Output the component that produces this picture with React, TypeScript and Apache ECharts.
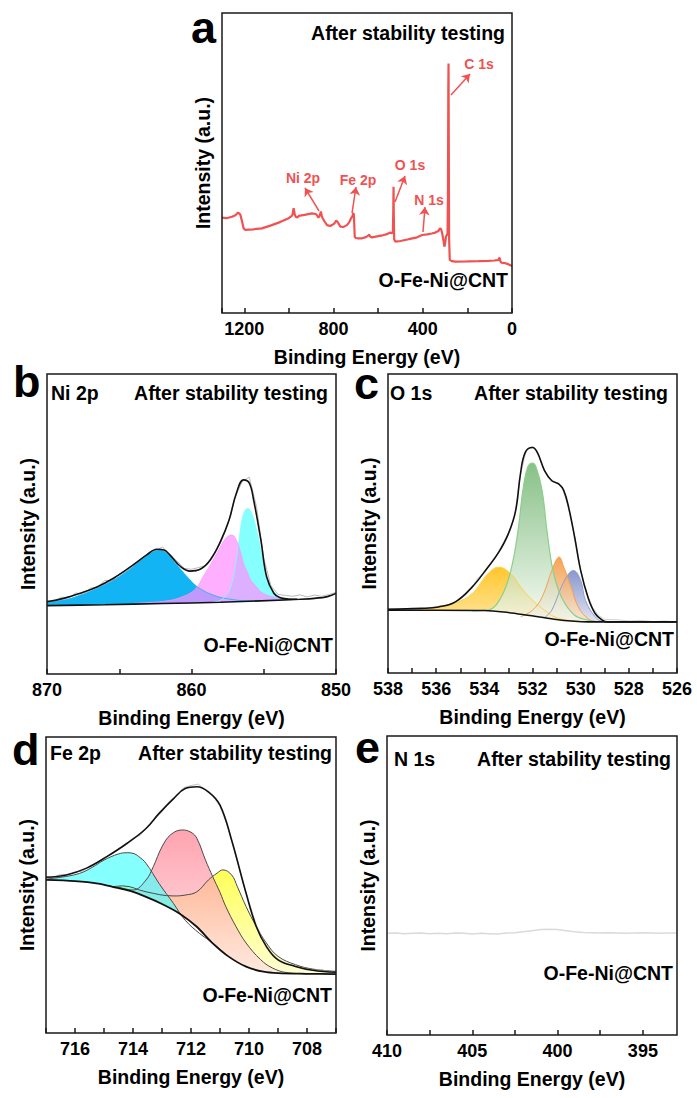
import React, { useEffect, useRef } from 'react';
import * as echarts from 'echarts';

const FONT = '"Liberation Sans", Arial, Helvetica, sans-serif';

// ---------- Panel a : survey ----------
const SURVEY_BE = [1300, 1280, 1255, 1240, 1228, 1218, 1210, 1203, 1195, 1160, 1121, 1080, 1040, 1001, 990, 984, 979, 974, 970, 962, 956, 930, 897, 880, 874, 868, 862, 857, 853, 849, 840, 829, 815, 807, 796, 788, 780, 770, 755, 740, 730, 725, 720, 716, 712, 709, 705, 700, 690, 672, 655, 645, 640, 635, 628, 600, 580, 560, 553, 545, 538, 534, 532, 531, 530, 528, 523, 500, 463, 430, 403, 380, 360, 344, 330, 323, 318, 313, 308, 303, 300, 296, 292, 289, 287, 285.5, 284.5, 283.5, 282, 279, 270, 254, 200, 150, 105, 80, 65, 60, 57, 55, 52, 48, 40, 30, 15, 0];
const SURVEY_INT = [31.8, 31.6, 32.1, 32.6, 33.5, 32.8, 30.5, 28.2, 27.7, 27.9, 28.2, 29.2, 30.3, 31.6, 32.2, 32.7, 34.9, 33.0, 32.1, 31.8, 32.4, 32.7, 33.2, 33.0, 32.6, 31.8, 32.4, 33.8, 32.5, 31.6, 30.5, 29.3, 29.0, 29.3, 29.9, 30.8, 30.2, 28.8, 28.7, 29.3, 30.2, 31.0, 31.8, 32.1, 33.2, 33.0, 25.4, 25.0, 24.9, 24.9, 25.3, 25.8, 26.1, 25.4, 25.2, 25.6, 25.9, 26.3, 26.6, 26.8, 26.6, 26.9, 35.0, 42.1, 33.0, 24.5, 23.8, 24.0, 24.6, 25.1, 26.0, 26.2, 26.5, 26.8, 27.3, 28.2, 28.0, 26.6, 24.5, 22.1, 23.0, 25.5, 26.0, 26.5, 40.0, 75.0, 83.2, 60.0, 25.0, 17.7, 17.3, 17.1, 17.2, 17.3, 17.4, 17.5, 17.6, 17.7, 18.5, 18.2, 17.2, 16.8, 16.7, 16.6, 16.2, 15.7];
const SURVEY_LABELS = ['C 1s', 'O 1s', 'N 1s', 'Fe 2p', 'Ni 2p'];
const SURVEY_LABEL_AT = [[147.9, 83], [457.2, 49.3], [372, 37.7], [690.3, 44.3], [936.9, 45]];
const SURVEY_ARROWS = [[273.4, 72.7, 188.3, 79.7], [524.5, 37, 479.6, 45.7], [399, 27, 390, 35.3], [717.2, 33.3, 699.3, 42], [865.2, 34, 928, 41.7]];

// ---------- Panel b : Ni 2p ----------
const NI_BG_BE = [870, 866, 862, 858, 854, 852.5, 851.5, 850.6, 850];
const NI_BG = [22.8, 23.1, 23.5, 23.9, 24.6, 24.9, 25.2, 25.8, 26.9];
const NI_ENV_BE = [870, 868.85, 867.7, 866.5, 865.4, 864.2, 863.1, 862.4, 861.9, 861.5, 860.8, 860.1, 859.4, 858.7, 858, 857.4, 856.9, 856.4, 856, 855.7, 855.2, 854.8, 854.3, 853.9, 853.3, 852.7];
const NI_ENV = [24.1, 25.2, 26.9, 29.1, 31.9, 35.8, 39.7, 41.6, 41.3, 39.7, 36.0, 34.3, 34.9, 38.0, 44.1, 51.3, 60.2, 64.7, 63.6, 58.0, 44.7, 32.4, 26.9, 25.5, 25.0, 24.9];
const NI_BLUE_BE = [870, 868.5, 867.7, 866.5, 865.4, 864.2, 863.1, 862.7, 862.3, 861.7, 861, 860.3, 859.6, 858.5, 857.3, 856, 854.5, 853];
const NI_BLUE = [23.8, 25.0, 26.3, 28.6, 31.3, 35.2, 39.4, 40.7, 41.3, 40.2, 36.3, 32.4, 29.1, 26.3, 24.9, 24.4, 24.6, 24.8];
const NI_PINK_BE = [864, 863, 862, 861.2, 860.6, 860.1, 859.6, 859.2, 858.8, 858.5, 858.1, 857.8, 857.5, 857.2, 856.9, 856.6, 856.4, 856.1, 855.9, 855.5, 855.2, 854.8, 854.3, 853.8, 853.4, 852.5];
const NI_PINK = [23.5, 23.8, 24.2, 24.8, 25.8, 26.9, 29.0, 32.4, 35.5, 38.0, 41.5, 44.1, 45.8, 46.3, 44.6, 40.5, 36.9, 33.5, 31.3, 29.0, 27.4, 26.3, 25.6, 25.1, 24.9, 24.9];
const NI_CYAN_BE = [858.5, 858, 857.5, 857.2, 856.9, 856.7, 856.5, 856.3, 856.1, 855.9, 855.7, 855.4, 855.2, 855, 854.8, 854.5, 854.3, 853.9, 853.5];
const NI_CYAN = [24.0, 24.6, 26.8, 30.5, 38.0, 45.0, 51.5, 54.5, 55.2, 54.2, 51.9, 46.0, 41.3, 36.5, 32.4, 29.0, 27.4, 25.5, 24.8];
const NI_RAW_BE = [870, 869.5, 869, 868.5, 868, 867.5, 867, 866.5, 866, 865.5, 865, 864.5, 864, 863.5, 863, 862.5, 862, 861.5, 861, 860.5, 860, 859.5, 859, 858.5, 858, 857.5, 857, 856.5, 856, 855.5, 855, 854.5, 854, 853.5, 853, 852.5, 852, 851.5, 851, 850.5, 850];
const NI_RAW = [24.5, 24.3, 25.6, 25.4, 27.0, 26.6, 28.6, 29.0, 31.2, 31.0, 33.4, 34.2, 36.8, 38.0, 40.4, 41.2, 42.3, 39.9, 37.6, 35.2, 34.9, 35.5, 36.2, 39.8, 43.5, 49.6, 58.7, 64.1, 65.6, 55.8, 38.6, 29.4, 26.5, 26.2, 25.9, 26.4, 25.7, 26.3, 25.9, 26.5, 27.2];

// ---------- Panel c : O 1s ----------
const O_BG_BE = [538, 536, 534, 533.2, 532.2, 531.1, 530.25, 529.7, 528, 526];
const O_BG = [21.0, 21.0, 20.9, 20.4, 19.3, 18.0, 17.3, 17.1, 17.1, 17.1];
const O_ENV_BE = [538, 536.6, 535.9, 535.2, 534.5, 533.85, 533.4, 533.0, 532.7, 532.5, 532.3, 532.0, 531.8, 531.5, 531.2, 530.9, 530.7, 530.5, 530.25, 530.0, 529.7, 529.4, 529.1, 528.9, 528, 526];
const O_ENV = [21.3, 21.6, 22.1, 23.8, 28.8, 35.4, 40.4, 46.6, 54.3, 66.6, 73.8, 75.4, 73.8, 67.7, 64.3, 63.2, 61.0, 55.4, 45.4, 34.3, 25.4, 19.9, 17.7, 17.1, 17.1, 17.1];
const O_YELLOW_BE = [537, 536.6, 535.9, 535.2, 534.5, 533.85, 533.4, 532.9, 532.5, 532.0, 531.5, 531.1, 530.5, 530];
const O_YELLOW = [21.0, 21.2, 22.0, 23.4, 26.6, 33.2, 35.4, 33.2, 28.8, 24.3, 21.0, 18.8, 17.6, 17.2];
const O_GREEN_BE = [534.5, 533.85, 533.3, 532.9, 532.6, 532.4, 532.2, 532.0, 531.85, 531.6, 531.4, 531.15, 530.8, 530.25, 529.7, 529.3];
const O_GREEN = [20.8, 21.0, 25.4, 34.3, 47.7, 61.0, 68.8, 70.2, 68.8, 61.0, 47.7, 34.3, 25.4, 19.3, 17.7, 17.1];
const O_ORANGE_BE = [532.5, 532, 531.6, 531.2, 531.0, 530.9, 530.7, 530.4, 530.1, 529.7, 529.3];
const O_ORANGE = [18.8, 21.0, 25.4, 34.3, 38.0, 38.8, 35.4, 28.8, 22.1, 18.2, 17.1];
const O_BLUE_BE = [531.5, 531.2, 530.8, 530.5, 530.3, 530.0, 529.8, 529.4, 529.1, 528.8];
const O_BLUE = [18.5, 21.0, 28.8, 33.2, 34.3, 31.0, 24.3, 18.8, 17.3, 17.1];
const O_RAW_BE = [538, 537.5, 537, 536.5, 536, 535.5, 535, 534.75, 534.5, 534.25, 534, 533.75, 533.5, 533.25, 533, 532.75, 532.5, 532.25, 532, 531.75, 531.5, 531.25, 531, 530.75, 530.5, 530.25, 530, 529.75, 529.5, 529.25, 529, 528.5, 528, 527.5, 527, 526.5, 526];
const O_RAW = [21.6, 21.2, 21.7, 21.5, 22.2, 22.8, 24.6, 26.3, 28.9, 31.8, 34.0, 36.6, 39.3, 42.8, 46.9, 52.0, 66.2, 74.6, 75.8, 72.9, 67.4, 64.9, 63.6, 61.8, 55.1, 45.8, 34.1, 26.6, 21.8, 19.2, 17.9, 17.8, 17.4, 17.6, 17.2, 17.4, 17.1];

// ---------- Panel d : Fe 2p ----------
const FE_BG_BE = [717, 716, 715.2, 714.7, 714.1, 713.55, 713, 712.4, 711.8, 711.25, 710.7, 710.1, 709.5, 709, 708, 707];
const FE_BG = [51.7, 51.3, 50.5, 49.4, 48.0, 46.0, 43.6, 40.4, 35.9, 30.3, 25.8, 22.4, 20.7, 20.2, 20.0, 19.9];
const FE_ENV_BE = [717, 716.3, 715.6, 714.9, 714.2, 713.55, 713.1, 712.6, 712.2, 711.8, 711.4, 711, 710.6, 710.1, 709.75, 709.4, 709, 708.4, 707.8, 707];
const FE_ENV = [52.6, 53.4, 55.7, 59.6, 64.1, 69.1, 74.2, 79.2, 82.6, 83.2, 81.5, 77.0, 65.2, 47.2, 36.0, 29.2, 24.7, 22.5, 21.2, 20.5];
const FE_CYAN_BE = [717, 716.5, 715.85, 715.4, 715, 714.5, 714.2, 714, 713.8, 713.55, 713.1, 712.6, 712.2, 711.7, 711.25, 710.8];
const FE_CYAN = [52.0, 52.6, 53.9, 56.0, 58.4, 60.5, 60.9, 60.7, 59.6, 57.3, 50.5, 43.7, 38.1, 33.6, 30.4, 26.6];
const FE_PINK_BE = [714.5, 714, 713.55, 713.3, 713, 712.7, 712.3, 712.0, 711.8, 711.5, 711.25, 711.0, 710.8, 710.45, 710.1, 709.6, 709.2, 708.7, 708];
const FE_PINK = [49.3, 48.3, 51.7, 56.2, 62.9, 67.0, 68.6, 67.8, 65.8, 58.4, 52.8, 47.5, 42.7, 36.0, 30.4, 24.8, 22.0, 20.4, 20.0];
const FE_YELLOW_BE = [714.7, 714.35, 713.55, 712.6, 712.2, 711.8, 711.4, 711.1, 710.9, 710.6, 710.4, 710.1, 709.75, 709.4, 709, 708.4, 707.8, 707];
const FE_YELLOW = [49.4, 49.7, 47.7, 46.3, 46.6, 47.7, 51.7, 54.0, 55.1, 53.4, 49.4, 42.7, 36.0, 30.4, 25.9, 23.1, 21.6, 20.8];
const FE_RAW_BE = [717, 716.75, 716.5, 716.25, 716, 715.75, 715.5, 715.25, 715, 714.75, 714.5, 714.25, 714, 713.75, 713.5, 713.25, 713, 712.75, 712.5, 712.25, 712, 711.75, 711.5, 711.25, 711, 710.75, 710.5, 710.25, 710, 709.75, 709.5, 709.25, 709, 708.75, 708.5, 708.25, 708, 707.75, 707.5, 707.25, 707];
const FE_RAW = [52.9, 52.6, 53.6, 53.3, 54.4, 54.6, 56.5, 57.4, 59.3, 60.4, 62.2, 63.8, 65.9, 66.8, 69.8, 72.4, 74.7, 78.3, 80.1, 82.9, 83.6, 84.1, 81.9, 80.2, 76.6, 70.1, 61.3, 52.5, 44.1, 36.6, 31.0, 27.5, 25.0, 23.5, 22.9, 22.1, 21.8, 21.2, 21.4, 20.7, 21.0];

// ---------- Panel e : N 1s ----------
const N_RAW_BE = [410, 409.5, 409, 408.5, 408, 407.5, 407, 406.5, 406, 405.5, 405, 404.5, 404, 403.5, 403, 402.5, 402, 401.5, 401, 400.5, 400, 399.5, 399, 398.5, 398, 397.5, 397, 396.5, 396, 395.5, 395, 394.5, 394, 393.5, 393];
const N_RAW = [34.0, 34.1, 33.9, 34.0, 34.1, 33.9, 34.0, 33.9, 34.1, 34.0, 33.8, 34.0, 33.9, 33.8, 34.1, 34.2, 34.5, 34.9, 35.3, 35.4, 35.3, 34.9, 34.5, 34.3, 34.2, 34.1, 34.2, 34.1, 34.0, 34.1, 34.2, 34.1, 34.0, 34.1, 34.1];

const PANEL_LETTERS = ['a', 'b', 'c', 'd', 'e'];
const PANEL_ELEMENTS = ['', 'Ni 2p', 'O 1s', 'Fe 2p', 'N 1s'];

const RED = '#F05252';
const TXT = 19.5;

const pairs = (xs: number[], ys: number[]) => xs.map((x, i) => [x, ys[i]]);
const grad = (top: string, bottom: string, stop = 1) =>
  new echarts.graphic.LinearGradient(0, 0, 0, 1, [
    { offset: 0, color: top },
    { offset: stop, color: bottom },
    { offset: 1, color: bottom },
  ]);

function line(g: number, xs: number[], ys: number[], o: any = {}) {
  const s: any = {
    type: 'line',
    xAxisIndex: g,
    yAxisIndex: g,
    data: pairs(xs, ys),
    symbol: 'none',
    smooth: o.smooth ?? 0,
    silent: true,
    lineStyle: { color: o.color ?? '#000', width: o.width ?? 1.5 },
    z: 2,
  };
  if (o.area) s.areaStyle = o.area;
  if (o.markLine) s.markLine = o.markLine;
  if (o.markPoint) s.markPoint = o.markPoint;
  return s;
}

const GRIDS = [
  { left: 222, top: 13, width: 290, height: 300 },
  { left: 47, top: 374, width: 289, height: 300 },
  { left: 388, top: 374, width: 289, height: 299 },
  { left: 46, top: 737, width: 290, height: 296 },
  { left: 387, top: 736, width: 290, height: 299 },
];

function xAxis(g: number, min: number, max: number, interval: number | null, isLabel: (v: number) => boolean, extra: any = {}) {
  const ax: any = {
    gridIndex: g,
    type: 'value',
    inverse: true,
    min,
    max,
    axisLine: { show: false },
    splitLine: { show: false },
    axisTick: { show: true, inside: true, length: 5, lineStyle: { color: '#1a1a1a', width: 1.5 }, ...(extra.tick || {}) },
    axisLabel: {
      show: true,
      margin: 7,
      fontSize: 18,
      fontWeight: 'bold',
      color: '#000',
      fontFamily: FONT,
      formatter: (v: number) => (isLabel(v) ? String(v) : ''),
      ...(extra.label || {}),
    },
    name: 'Binding Energy (eV)',
    nameLocation: 'middle',
    nameGap: 34,
    nameTextStyle: { fontSize: TXT, fontWeight: 'bold', color: '#000', fontFamily: FONT },
    z: 10,
  };
  if (interval !== null) ax.interval = interval;
  return ax;
}

function yAxis(g: number) {
  return {
    gridIndex: g,
    type: 'value',
    min: 0,
    max: 100,
    axisLine: { show: false },
    axisTick: { show: false },
    axisLabel: { show: false },
    splitLine: { show: false },
    name: 'Intensity (a.u.)',
    nameLocation: 'middle',
    nameGap: 9,
    nameTextStyle: { fontSize: TXT, fontWeight: 'bold', color: '#000', fontFamily: FONT },
    z: 10,
  };
}

function txt(x: number, y: number, text: string, size: number, align = 'left') {
  return {
    type: 'text',
    x,
    y,
    z: 30,
    silent: true,
    style: {
      text,
      fontSize: size,
      fontWeight: 'bold',
      fontFamily: FONT,
      fill: '#000',
      textFill: '#000',
      align,
      textAlign: align,
      verticalAlign: 'middle',
      textVerticalAlign: 'middle',
    },
  };
}

export default function App() {
  const ref = useRef<HTMLDivElement>(null);

  useEffect(() => {
    if (!ref.current) return;
    const chart = echarts.init(ref.current, null, { renderer: 'svg' });

    const series: any[] = [];

    // Panel a
    series.push(
      line(0, SURVEY_BE, SURVEY_INT, {
        color: RED,
        width: 2.2,
        markLine: {
          silent: true,
          symbol: ['none', 'arrow'],
          symbolSize: 8,
          label: { show: false },
          lineStyle: { color: RED, width: 1.5, type: 'solid' },
          data: SURVEY_ARROWS.map((a) => [{ coord: [a[0], a[1]] }, { coord: [a[2], a[3]] }]),
        },
        markPoint: {
          silent: true,
          symbol: 'circle',
          symbolSize: 1,
          itemStyle: { color: 'rgba(0,0,0,0)' },
          label: { show: true, position: 'inside', formatter: '{b}', color: RED, fontSize: 14, fontWeight: 'bold', fontFamily: FONT },
          data: SURVEY_LABELS.map((n, i) => ({ name: n, coord: SURVEY_LABEL_AT[i] })),
        },
      })
    );

    // Panel b
    series.push(line(1, NI_BLUE_BE, NI_BLUE, { smooth: 0.4, color: '#12b2f2', width: 0.8, area: { color: '#12b4f4', opacity: 1 } }));
    series.push(line(1, NI_CYAN_BE, NI_CYAN, { smooth: 0.4, color: '#80ffff', width: 0.8, area: { color: '#80ffff', opacity: 0.95 } }));
    series.push(line(1, NI_PINK_BE, NI_PINK, { smooth: 0.4, color: '#ff96ff', width: 0.8, area: { color: '#ff90ff', opacity: 0.72 } }));
    series.push(line(1, NI_BG_BE, NI_BG, { smooth: 0.3, color: '#111', width: 1.6, area: { color: '#ffffff', opacity: 1 } }));
    series.push(line(1, NI_RAW_BE, NI_RAW, { color: '#a8a8a8', width: 0.8 }));
    series.push(line(1, NI_ENV_BE, NI_ENV, { smooth: 0.4, color: '#111', width: 1.6 }));

    // Panel c
    series.push(line(2, O_YELLOW_BE, O_YELLOW, { smooth: 0.4, color: '#ffd040', width: 1, area: { color: grad('#ffc21a', '#fff6dc', 0.8), opacity: 0.92 } }));
    series.push(line(2, O_BLUE_BE, O_BLUE, { smooth: 0.4, color: '#8f9dd2', width: 1, area: { color: grad('#7b8cc8', '#e8e8f2', 0.55), opacity: 0.9 } }));
    series.push(line(2, O_ORANGE_BE, O_ORANGE, { smooth: 0.4, color: '#f6a050', width: 1, area: { color: grad('#f59a40', '#f9ece0', 0.6), opacity: 0.9 } }));
    series.push(line(2, O_GREEN_BE, O_GREEN, { smooth: 0.4, color: '#8ccf8c', width: 1.2, area: { color: grad('#5fab5f', '#f2f8ee', 0.75), opacity: 0.75 } }));
    series.push(line(2, O_BG_BE, O_BG, { smooth: 0.3, color: '#111', width: 1.6, area: { color: '#ffffff', opacity: 1 } }));
    series.push(line(2, O_RAW_BE, O_RAW, { color: '#c4c4c4', width: 0.8 }));
    series.push(line(2, O_ENV_BE, O_ENV, { smooth: 0.4, color: '#111', width: 1.6 }));

    // Panel d
    series.push(line(3, FE_YELLOW_BE, FE_YELLOW, { smooth: 0.4, color: '#4a4a4a', width: 1, area: { color: grad('#ffff40', '#fffff0', 0.8), opacity: 0.88 } }));
    series.push(line(3, FE_PINK_BE, FE_PINK, { smooth: 0.4, color: '#4a4a4a', width: 1, area: { color: grad('#ff8596', '#ffeeee', 0.8), opacity: 0.75 } }));
    series.push(line(3, FE_CYAN_BE, FE_CYAN, { smooth: 0.4, color: '#4a4a4a', width: 1, area: { color: '#4dffff', opacity: 0.68 } }));
    series.push(line(3, FE_BG_BE, FE_BG, { smooth: 0.3, color: '#111', width: 1.8, area: { color: '#ffffff', opacity: 1 } }));
    series.push(line(3, FE_RAW_BE, FE_RAW, { color: '#b4b4b4', width: 0.8 }));
    series.push(line(3, FE_ENV_BE, FE_ENV, { smooth: 0.4, color: '#111', width: 1.6 }));

    // Panel e
    series.push(line(4, N_RAW_BE, N_RAW, { color: '#dadada', width: 1.5 }));

    const graphic: any[] = [
      txt(191, 27, PANEL_LETTERS[0], 45),
      txt(13, 381, PANEL_LETTERS[1], 45),
      txt(354, 383, PANEL_LETTERS[2], 45),
      txt(12, 749, PANEL_LETTERS[3], 45),
      txt(355, 747, PANEL_LETTERS[4], 45),
      txt(505, 33, 'After stability testing', TXT, 'right'),
      txt(328, 393, 'After stability testing', TXT, 'right'),
      txt(668, 393, 'After stability testing', TXT, 'right'),
      txt(332, 753, 'After stability testing', TXT, 'right'),
      txt(671, 759, 'After stability testing', TXT, 'right'),
      txt(51, 393, PANEL_ELEMENTS[1], TXT),
      txt(390, 393, PANEL_ELEMENTS[2], TXT),
      txt(50, 753, PANEL_ELEMENTS[3], TXT),
      txt(394, 759, PANEL_ELEMENTS[4], TXT),
      txt(508, 280, 'O-Fe-Ni@CNT', TXT, 'right'),
      txt(333, 645, 'O-Fe-Ni@CNT', TXT, 'right'),
      txt(674, 639, 'O-Fe-Ni@CNT', TXT, 'right'),
      txt(332, 995, 'O-Fe-Ni@CNT', TXT, 'right'),
      txt(673, 973, 'O-Fe-Ni@CNT', TXT, 'right'),
    ];

    const option: any = {
      animation: false,
      backgroundColor: '#ffffff',
      textStyle: { fontFamily: FONT },
      grid: GRIDS.map((g) => ({ ...g, show: true, borderColor: '#1a1a1a', borderWidth: 1.5, backgroundColor: 'transparent', z: 10, containLabel: false })),
      xAxis: [
        xAxis(0, 0, 1300, 200, (v) => v % 400 === 0),
        xAxis(1, 850, 870, 5, (v) => v % 10 === 0),
        xAxis(2, 526, 538, 1, (v) => v % 2 === 0),
        xAxis(3, 707, 717, 1, (v) => v % 2 === 0),
        xAxis(4, 393, 410, null, (v) => v % 5 === 0, {
          tick: { customValues: [395, 397.5, 400, 402.5, 405, 407.5, 410] },
          label: { customValues: [395, 400, 405, 410] },
        }),
      ],
      yAxis: [yAxis(0), yAxis(1), yAxis(2), yAxis(3), yAxis(4)],
      series,
      graphic,
    };

    chart.setOption(option);
    return () => chart.dispose();
  }, []);

  return <div ref={ref} style={{ position: 'absolute', left: 0, top: 0, width: 697, height: 1098, background: '#fff' }} />;
}
